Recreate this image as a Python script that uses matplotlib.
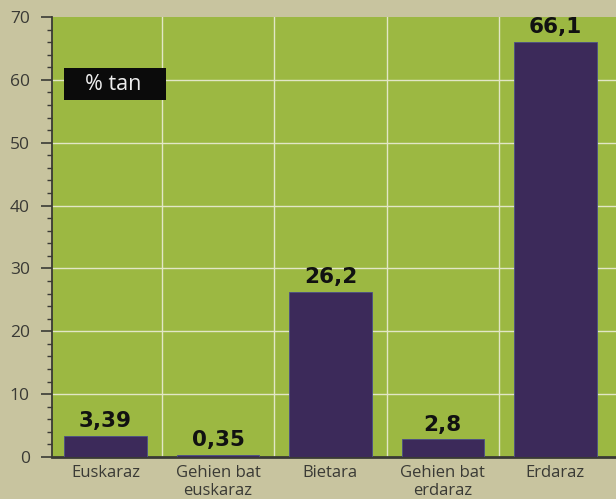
import matplotlib
matplotlib.use("Agg")
import matplotlib.pyplot as plt
from matplotlib.patches import Rectangle
from matplotlib.ticker import MultipleLocator

categories = ["Euskaraz", "Gehien bat\neuskaraz", "Bietara", "Gehien bat\nerdaraz", "Erdaraz"]
values = [3.39, 0.35, 26.2, 2.8, 66.1]
value_labels = ["3,39", "0,35", "26,2", "2,8", "66,1"]
yticks = [0, 10, 20, 30, 40, 50, 60, 70]

BG = "#c8c49f"
GREEN = "#9cb842"
PURPLE = "#3c2a5a"
GRID = "#e2e6c6"
AXIS = "#3a3a35"
TEXT = "#3a3a35"

fig = plt.figure(figsize=(6.16, 4.99), dpi=100)
fig.patch.set_facecolor(BG)
ax = fig.add_axes([52 / 616, 1 - 457 / 499, 564 / 616, 440 / 499])
ax.set_facecolor(GREEN)

x = list(range(len(categories)))
ax.bar(x, values, width=0.735, color=PURPLE, edgecolor="#4a4f88", linewidth=0.6, zorder=3)

for xi, v, lab in zip(x, values, value_labels):
    ax.annotate(lab, (xi, v), xytext=(0, 3.5), textcoords="offset points",
                ha="center", va="bottom", fontsize=15.5, fontweight="bold",
                color="#111111", family="DejaVu Sans", zorder=4)

ax.set_xlim(-0.476, 4.54)
ax.set_ylim(0, 70)
ax.set_yticks(yticks)
ax.yaxis.set_minor_locator(MultipleLocator(2))
ax.set_xticks(x)
ax.set_xticklabels(categories, fontsize=12, family="Open Sans", color=TEXT, linespacing=1.12)
for t in ax.get_yticklabels():
    t.set_fontsize(12.5)
    t.set_family("Open Sans")
    t.set_color(TEXT)

ax.tick_params(axis="y", which="major", length=8, width=1.2, color=AXIS, pad=8)
ax.tick_params(axis="y", which="minor", length=3.5, width=1.0, color=AXIS)
ax.tick_params(axis="x", length=0, pad=6)

# gridlines
for yv in yticks[1:-1]:
    ax.axhline(yv, color=GRID, linewidth=1.0, zorder=1)
for xv in [0.5, 1.5, 2.5, 3.5]:
    ax.axvline(xv, color=GRID, linewidth=1.0, zorder=1)

for s in ["top", "right"]:
    ax.spines[s].set_visible(False)
ax.spines["left"].set_color(AXIS)
ax.spines["left"].set_linewidth(1.3)
ax.spines["bottom"].set_color(AXIS)
ax.spines["bottom"].set_linewidth(2.0)

# "% tan" box
ax.add_patch(Rectangle((0.0213, 0.811), 0.181, 0.073, transform=ax.transAxes,
                       facecolor="#0b0b0b", edgecolor="none", zorder=5))
ax.text(0.108, 0.847, "% tan", transform=ax.transAxes, ha="center", va="center",
        fontsize=15.5, family="Open Sans", color="#eeeeee", zorder=6)

fig.savefig("out.png", dpi=100, facecolor=BG)
